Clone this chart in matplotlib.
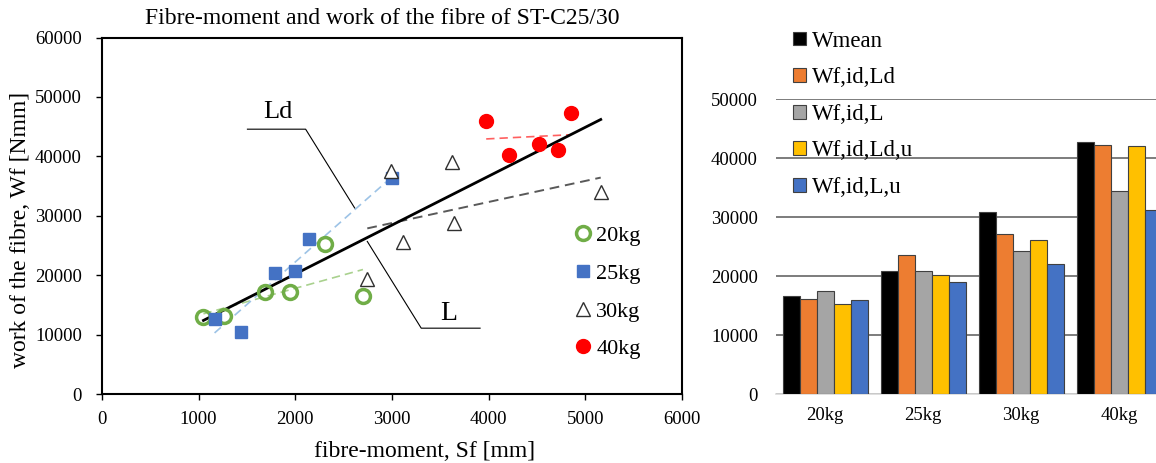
import numpy as np
import matplotlib.pyplot as plt

plt.rcParams['font.family'] = ['Liberation Serif', 'DejaVu Serif']

# scatter: fibre-moment Sf [mm] vs work of the fibre Wf [Nmm]
sf_20 = [1050, 1265, 1685, 1945, 2305, 2700]
wf_20 = [13000, 13100, 17100, 17100, 25200, 16500]
sf_25 = [1165, 1440, 1790, 2000, 2140, 3000]
wf_25 = [12700, 10400, 20400, 20700, 26100, 36400]
sf_30 = [2745, 2995, 3115, 3625, 3645, 5160]
wf_30 = [19400, 37600, 25500, 39100, 28700, 34000]
sf_40 = [3975, 4210, 4525, 4720, 4850]
wf_40 = [45900, 40200, 42100, 41100, 47300]

# bars
groups = ['20kg', '25kg', '30kg', '40kg']
w_mean = [16700, 20900, 30800, 42800]
w_ld = [16100, 23600, 27200, 42300]
w_l = [17500, 20900, 24300, 34500]
w_ld_u = [15300, 20200, 26200, 42000]
w_l_u = [16000, 19000, 22100, 31200]


def fit_line(ax, x, y, **kw):
    k, b = np.polyfit(x, y, 1)
    xs = np.array([min(x), max(x)])
    ax.plot(xs, k * xs + b, **kw)


fig = plt.figure(figsize=(11.56, 4.63), dpi=100)

# ---- left: scatter with trend lines
ax = fig.add_axes([0.0882, 0.149, 0.5017, 0.770])

fit_line(ax, sf_20, wf_20, ls=(0, (5, 3)), c='#a9d18e', lw=1.2)
fit_line(ax, sf_25, wf_25, ls=(0, (5, 3)), c='#9dc3e6', lw=1.2)
fit_line(ax, sf_30, wf_30, ls=(0, (5, 3)), c='#595959', lw=1.4)
fit_line(ax, sf_40, wf_40, ls=(0, (5, 3)), c='#ff6060', lw=1.2)
fit_line(ax, sf_20 + sf_25 + sf_30 + sf_40, wf_20 + wf_25 + wf_30 + wf_40,
         ls='-', c='black', lw=2)

ax.plot(sf_20, wf_20, 'o', ls='none', ms=10, mfc='none', mec='#70ad47', mew=2.5, label='20kg')
ax.plot(sf_25, wf_25, 's', ls='none', ms=9, mfc='#4472c4', mec='#4472c4', label='25kg')
ax.plot(sf_30, wf_30, '^', ls='none', ms=10, mfc='white', mec='#303030', mew=1, label='30kg')
ax.plot(sf_40, wf_40, 'o', ls='none', ms=10, mfc='#ff0000', mec='#ff0000', label='40kg')

# leader lines for Ld / L
ax.plot([1505, 2107, 2614], [44570, 44570, 31320], c='black', lw=0.8)
ax.plot([3912, 3303, 2745], [11080, 11080, 25680], c='black', lw=0.8)
ax.text(1820, 47500, 'Ld', fontsize=19, ha='center', va='center')
ax.text(3585, 13600, 'L', fontsize=20, ha='center', va='center')

ax.set_xlim(0, 6000)
ax.set_ylim(0, 60000)
ax.set_xticks(range(0, 6001, 1000))
ax.set_yticks(range(0, 60001, 10000))
for s in ax.spines.values():
    s.set_linewidth(1.5)
ax.tick_params(direction='out', length=4.5, width=1, labelsize=13.5)
ax.tick_params(axis='y', pad=10)
ax.tick_params(axis='x', pad=8)

ax.set_title('Fibre-moment and work of the fibre of ST-C25/30', fontsize=17,
             x=0.483, y=1.039, pad=0)
ax.set_xlabel('fibre-moment, Sf [mm]', fontsize=17)
ax.set_ylabel('work of the fibre, Wf [Nmm]', fontsize=17)
ax.xaxis.set_label_coords(0.557, -0.132)
ax.yaxis.set_label_coords(-0.122, 0.46)

ax.legend(loc='center left', bbox_to_anchor=(0.814, 0.285), frameon=False,
          fontsize=16, handlelength=0.8, handletextpad=0.2, borderpad=0,
          labelspacing=0.77, borderaxespad=0)

# ---- right: grouped bars
ax2 = fig.add_axes([0.6713, 0.149, 0.3391, 0.6365])
series = [w_mean, w_ld, w_l, w_ld_u, w_l_u]
names = ['Wmean', 'Wf,id,Ld', 'Wf,id,L', 'Wf,id,Ld,u', 'Wf,id,L,u']
colors = ['#000000', '#ed7d31', '#a5a5a5', '#ffc000', '#4472c4']
x = np.arange(len(groups))
w = 0.1735
for i, (vals, name, col) in enumerate(zip(series, names, colors)):
    ax2.bar(x + (i - 2) * w, vals, w, color=col, edgecolor='#404040', lw=0.8,
            label=name, zorder=3)

ax2.set_xlim(-0.5, 3.5)
ax2.set_ylim(0, 50000)
ax2.set_yticks(range(0, 50001, 10000))
ax2.set_xticks(x)
ax2.set_xticklabels(groups)
ax2.yaxis.grid(True, color='#595959', lw=1.1, zorder=0)
for side in ['top', 'right', 'left']:
    ax2.spines[side].set_visible(False)
ax2.spines['bottom'].set_color('#d9d9d9')
ax2.spines['bottom'].set_linewidth(1.2)
ax2.tick_params(length=0, labelsize=13.5)
ax2.tick_params(axis='y', pad=13)
ax2.tick_params(axis='x', pad=9)

fig.legend(loc='center left', bbox_to_anchor=(0.686, 0.753), frameon=False,
           fontsize=16.5, handlelength=0.55, handleheight=0.55, handletextpad=0.26,
           borderpad=0, labelspacing=0.68, borderaxespad=0,
           handles=ax2.get_legend_handles_labels()[0])

fig.savefig('out.png', dpi=100)
